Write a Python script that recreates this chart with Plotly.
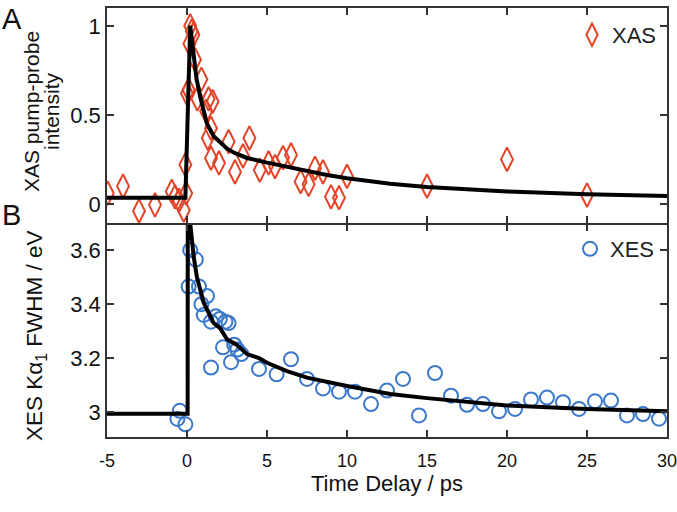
import plotly.graph_objects as go

# ---------------- data ----------------
xas_t = [-4.95, -4.0, -3.0, -2.0, -0.95, -0.75, -0.5, -0.2, -0.05, -0.1, 0.0, 0.1,
         0.2, 0.3, 0.4, 0.15, 0.5, 0.9, 0.65, 1.35, 1.6, 1.2, 1.5, 1.3, 2.6, 1.5,
         2.0, 3.0, 3.9, 3.5, 4.55, 5.1, 5.5, 6.0, 6.5, 7.1, 7.6, 8.0, 8.5, 9.0,
         9.5, 10.0, 15.0, 20.0, 25.0]
xas_v = [0.06, 0.10, -0.04, -0.005, 0.07, 0.04, 0.02, -0.035, 0.06, 0.22, 0.62, 0.64,
         1.0, 0.97, 0.95, 0.90, 0.81, 0.70, 0.59, 0.59, 0.575, 0.52, 0.425, 0.37, 0.35, 0.257,
         0.23, 0.18, 0.37, 0.27, 0.19, 0.23, 0.21, 0.26, 0.275, 0.125, 0.11, 0.20, 0.18, 0.04,
         0.035, 0.155, 0.10, 0.25, 0.05]

xes_t = [-0.6, -0.45, -0.1, 0.2, 0.55, 0.1, 0.75, 1.25, 0.9, 1.05, 1.5, 1.8, 2.05,
         2.4, 2.6, 2.25, 2.95, 3.15, 3.4, 1.5, 2.75, 4.5, 5.6, 6.5, 7.5, 8.5, 9.5,
         10.5, 11.5, 12.5, 13.5, 14.5, 15.5, 16.5, 17.5, 18.5, 19.5, 20.5, 21.5,
         22.5, 23.5, 24.5, 25.5, 26.5, 27.5, 28.5, 29.5]
xes_v = [2.975, 3.005, 2.955, 3.60, 3.565, 3.465, 3.465, 3.43, 3.40, 3.36, 3.335, 3.355,
         3.345, 3.335, 3.33, 3.24, 3.25, 3.232, 3.215, 3.165, 3.185, 3.16, 3.14, 3.196,
         3.123, 3.088, 3.076, 3.076, 3.03, 3.08, 3.123, 2.988, 3.145, 3.061, 3.027, 3.03,
         3.003, 3.012, 3.047, 3.054, 3.037, 3.012, 3.04, 3.043, 2.988, 2.993, 2.976]

fit_xas_t = [-5, -0.1, 0.2, 0.3, 0.42, 0.6, 0.83, 1.05, 1.25, 1.67, 2.0, 2.5, 3.0,
             3.75, 5.0, 6.7, 8.75, 10.0, 12.7, 15.0, 20.0, 25.0, 30.0]
fit_xas_v = [0.035, 0.035, 1.0, 0.93, 0.81, 0.70, 0.60, 0.52, 0.45, 0.38, 0.35, 0.31,
             0.285, 0.258, 0.232, 0.20, 0.163, 0.144, 0.113, 0.095, 0.07, 0.054, 0.045]

fit_xes_t = [-5, 0.04, 0.05, 0.2, 0.42, 0.62, 0.83, 1.05, 1.25, 1.67, 2.08, 2.5, 3.1,
             3.75, 4.5, 5.0, 6.25, 7.5, 10.0, 12.7, 15.0, 20.0, 25.0, 30.0]
fit_xes_v = [2.994, 2.994, 3.85, 3.70, 3.575, 3.50, 3.453, 3.405, 3.38, 3.33, 3.31, 3.27,
             3.25, 3.215, 3.20, 3.183, 3.152, 3.128, 3.097, 3.067, 3.052, 3.025, 3.012, 3.003]

x_ticks = [-5, 0, 5, 10, 15, 20, 25, 30]
x_ticktext = ["-5", "0", "5", "10", "15", "20", "25", "30"]
xas_ticks = [0, 0.5, 1]
xas_ticktext = ["0", "0.5", "1"]
xes_ticks = [3, 3.2, 3.4, 3.6]
xes_ticktext = ["3", "3.2", "3.4", "3.6"]

# ---------------- geometry ----------------
W, H = 677, 512
L, R, T, B = 107, 10, 8, 75
pw, ph = W - L - R, H - T - B
split = 215 / ph          # panel boundary (from top), in paper fraction
top_dom = [1 - split, 1]
bot_dom = [0, 1 - split - 1.5 / ph]


def px2x(px):
    return (px - L) / pw


def py2y(py):
    return 1 - (py - T) / ph


FONT = "Liberation Sans, Arial, sans-serif"
XAS_COLOR = "#e2452a"
XES_COLOR = "#3a78cc"
AXC = "#333333"
TXT = "#111111"

fig = go.Figure()

fig.add_trace(go.Scatter(x=xas_t, y=xas_v, mode="markers", name="XAS", xaxis="x", yaxis="y",
                         marker=dict(symbol="diamond-tall-open", size=17, color=XAS_COLOR,
                                     line=dict(width=2, color=XAS_COLOR)),
                         legend="legend"))
fig.add_trace(go.Scatter(x=fit_xas_t, y=fit_xas_v, mode="lines", showlegend=False,
                         xaxis="x", yaxis="y", line=dict(color="black", width=4)))

fig.add_trace(go.Scatter(x=xes_t, y=xes_v, mode="markers", name="XES", xaxis="x2", yaxis="y2",
                         marker=dict(symbol="circle-open", size=14, color=XES_COLOR,
                                     line=dict(width=2, color=XES_COLOR)),
                         legend="legend2"))
fig.add_trace(go.Scatter(x=fit_xes_t, y=fit_xes_v, mode="lines", showlegend=False,
                         xaxis="x2", yaxis="y2", line=dict(color="black", width=4)))

axis_common = dict(showline=True, linecolor=AXC, linewidth=1.5, mirror="ticks",
                   ticks="inside", ticklen=7, tickwidth=1.5, tickcolor=AXC,
                   showgrid=False, zeroline=False)
ytickfont = dict(family=FONT, size=22, color=TXT)
xtickfont = dict(family=FONT, size=18, color=TXT)

fig.update_layout(
    xaxis=dict(range=[-5, 30], tickvals=x_ticks, ticktext=x_ticktext, showticklabels=False,
               anchor="y", domain=[0, 1], tickfont=xtickfont, **axis_common),
    yaxis=dict(range=[-0.107, 1.1], tickvals=xas_ticks, ticktext=xas_ticktext,
               anchor="x", domain=top_dom, tickfont=ytickfont, **axis_common),
    xaxis2=dict(range=[-5, 30], tickvals=x_ticks, ticktext=x_ticktext, anchor="y2",
                domain=[0, 1], matches="x", ticklabeloverflow="allow", tickfont=xtickfont,
                ticklabelstandoff=7,
                title=dict(text="Time Delay / ps", font=dict(family=FONT, size=22, color=TXT),
                           standoff=0),
                **axis_common),
    yaxis2=dict(range=[2.908, 3.695], tickvals=xes_ticks, ticktext=xes_ticktext,
                anchor="x2", domain=bot_dom, tickfont=ytickfont, **axis_common),
)

annots = [
    ("XAS pump-probe", 31, 112, 21),
    ("intensity", 52, 111, 21),
    ("XES Kα<sub>1</sub> FWHM / eV", 36, 336, 22.5),
]
for text, px, py, fs in annots:
    fig.add_annotation(text=text, x=px2x(px), y=py2y(py), xref="paper", yref="paper",
                       textangle=-90, showarrow=False, xanchor="center", yanchor="middle",
                       font=dict(family=FONT, size=fs, color=TXT))
for lab, py in [("A", 1), ("B", 197)]:
    fig.add_annotation(text=lab, x=px2x(0), y=py2y(py), xref="paper", yref="paper",
                       showarrow=False, xanchor="left", yanchor="top",
                       font=dict(family=FONT, size=29, color=TXT))

legend_common = dict(font=dict(family=FONT, size=22, color="#222"), bgcolor="rgba(0,0,0,0)",
                     borderwidth=0, xanchor="left", yanchor="middle", itemwidth=30)
fig.update_layout(
    width=W, height=H,
    margin=dict(l=L, r=R, t=T, b=B, autoexpand=False),
    paper_bgcolor="white", plot_bgcolor="white",
    legend=dict(x=px2x(572), y=py2y(35), **legend_common),
    legend2=dict(x=px2x(570), y=py2y(249), **legend_common),
)

# remove the browser's default 8px page margin so the 677x512 figure fills the window
fig.write_html("out.html", config={"displayModeBar": False},
               post_script="document.body.style.margin='0';document.body.style.overflow='hidden';")
